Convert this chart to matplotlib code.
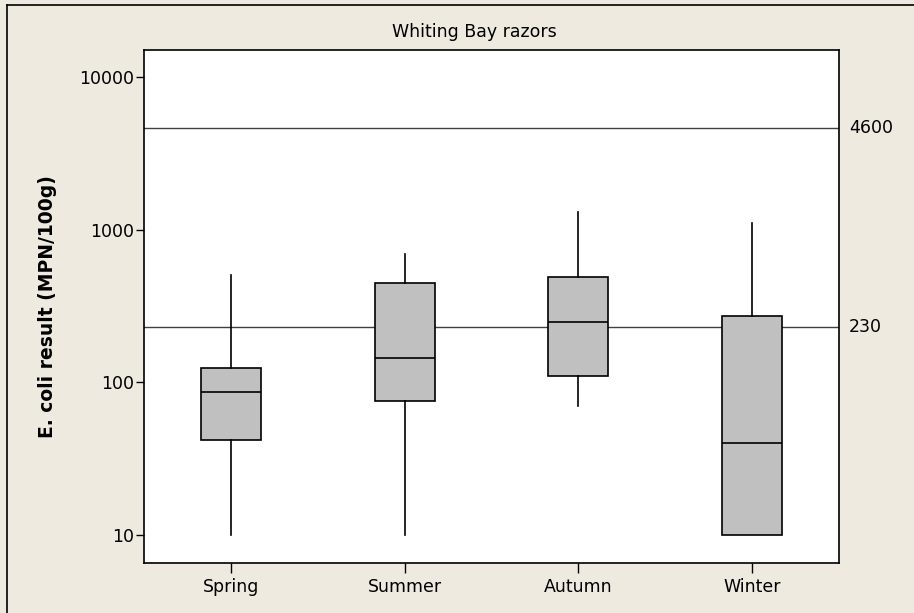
import matplotlib.pyplot as plt
from matplotlib.lines import Line2D
from matplotlib.transforms import blended_transform_factory

# data (MPN/100g, log scale)
seasons = ['Spring', 'Summer', 'Autumn', 'Winter']
whisker_low = [10, 10, 70, 10]
q1 = [42, 75, 110, 10]
medians = [87, 145, 250, 40]
q3 = [125, 445, 490, 270]
whisker_high = [505, 690, 1300, 1100]
ref_levels = [4600, 230]

BG = '#EEEAE0'

fig = plt.figure(figsize=(9.14, 6.13), dpi=100, facecolor=BG)
ax = fig.add_axes([144 / 914, 50 / 613, 695 / 914, 513 / 613])
ax.set_facecolor('white')

stats = []
for i, name in enumerate(seasons):
    stats.append({'label': name, 'whislo': whisker_low[i], 'q1': q1[i],
                  'med': medians[i], 'q3': q3[i], 'whishi': whisker_high[i]})

ax.set_yscale('log')

# reference lines first so boxes sit on top
for lvl in ref_levels:
    ax.axhline(lvl, color='#404040', lw=1.0, zorder=1)

ax.bxp(stats, positions=[1, 2, 3, 4], widths=0.345, showfliers=False,
       showcaps=False, patch_artist=True,
       boxprops=dict(facecolor='#C0C0C0', edgecolor='black', linewidth=1.2),
       medianprops=dict(color='black', linewidth=1.2),
       whiskerprops=dict(color='black', linewidth=1.2), zorder=3)

ax.set_xlim(0.5, 4.5)
ax.set_ylim(6.56, 15000)
ax.set_yticks([10, 100, 1000, 10000])
ax.set_yticklabels(['10', '100', '1000', '10000'])
ax.minorticks_off()
ax.tick_params(axis='y', direction='out', length=6, width=1, labelsize=12.5, pad=1)
ax.tick_params(axis='x', direction='out', length=7, width=1, labelsize=12.5, pad=4)
for sp in ax.spines.values():
    sp.set_linewidth(1.2)

ax.set_ylabel('E. coli result (MPN/100g)', fontsize=13.5, fontweight='bold', labelpad=16)

# labels for reference lines on the right
trans = blended_transform_factory(ax.transAxes, ax.transData)
for lvl in ref_levels:
    ax.text(1.014, lvl, str(lvl), transform=trans, ha='left', va='center', fontsize=12.5)

fig.text(474 / 914, 1 - 32 / 613, 'Whiting Bay razors', ha='center', va='center', fontsize=12.5)

# outer frame (top and left edges visible)
fig.add_artist(Line2D([7 / 914, 7 / 914], [0, 1 - 5 / 613], transform=fig.transFigure, color='black', lw=1.2))
fig.add_artist(Line2D([7 / 914, 1], [1 - 5 / 613, 1 - 5 / 613], transform=fig.transFigure, color='black', lw=1.2))

fig.savefig('out.png', dpi=100, facecolor=BG)
